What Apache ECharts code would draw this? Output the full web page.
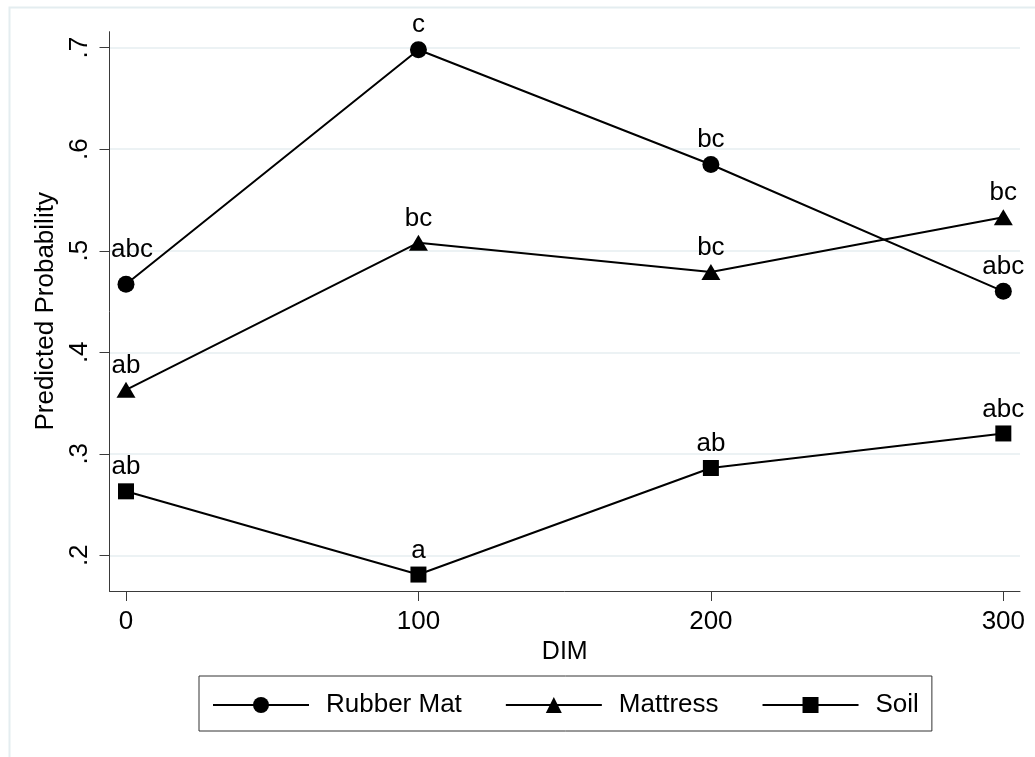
<!DOCTYPE html>
<html><head><meta charset="utf-8">
<script src="https://cdn.jsdelivr.net/npm/echarts@6/dist/echarts.min.js"></script>
<style>html,body{margin:0;padding:0;background:#fff}#c{width:1035px;height:757px}</style>
</head><body><div id="c"></div>
<script>
// ---- data ----
const xValues = [0, 100, 200, 300];
const seriesNames = ['Rubber Mat', 'Mattress', 'Soil'];
const rubberMat = [0.467, 0.698, 0.585, 0.460];
const mattress = [0.363, 0.508, 0.479, 0.533];
const soil = [0.263, 0.181, 0.286, 0.320];
const rubberLabels = ['abc', 'c', 'bc', 'abc'];
const mattressLabels = ['ab', 'bc', 'bc', 'bc'];
const soilLabels = ['ab', 'a', 'ab', 'abc'];
const xTicks = [0, 100, 200, 300];
const xTickLabels = ['0', '100', '200', '300'];
const yTicks = [0.2, 0.3, 0.4, 0.5, 0.6, 0.7];
const yTickLabels = ['.2', '.3', '.4', '.5', '.6', '.7'];
const xTitle = 'DIM';
const yTitle = 'Predicted Probability';

// ---- chart ----
const FONT = '"Liberation Sans", Arial, sans-serif';
const chart = echarts.init(document.getElementById('c'), null, {renderer: 'canvas'});

function lookup(ticks, labels, v) {
  const i = ticks.findIndex(t => Math.abs(t - v) < 1e-9);
  return i >= 0 ? labels[i] : '';
}

function mkSeries(name, vals, labels, symbol, size, nudge) {
  return {
    name: name,
    type: 'line',
    data: vals.map((v, i) => {
      const d = {value: [xValues[i], v]};
      if (nudge && nudge[i]) d.label = {offset: nudge[i]};
      return d;
    }),
    symbol: symbol,
    symbolSize: size,
    showAllSymbol: true,
    lineStyle: {color: '#000', width: 2},
    itemStyle: {color: '#000', borderWidth: 0},
    emphasis: {disabled: true},
    label: {
      show: true, position: 'top', distance: 3,
      formatter: p => labels[p.dataIndex],
      fontSize: 26, fontFamily: FONT, color: '#000'
    },
    z: 3
  };
}

const axisColor = '#3a3a3a';
chart.setOption({
  animation: false,
  backgroundColor: '#fff',
  textStyle: {fontFamily: FONT, color: '#000'},
  graphic: [{
    type: 'rect', left: 7, top: 5, silent: true,
    shape: {width: 1040, height: 770},
    style: {fill: 'none', stroke: '#e4edf0', lineWidth: 2}
  }],
  grid: {left: 109.5, right: 15, top: 31.7, bottom: 166, containLabel: false},
  xAxis: {
    type: 'value', min: -5.64, max: 305.7,
    name: xTitle, nameLocation: 'middle', nameGap: 42,
    nameTextStyle: {fontSize: 25, color: '#000', fontFamily: FONT},
    axisLine: {show: true, onZero: false, lineStyle: {color: axisColor, width: 1}},
    axisTick: {show: true, length: 10, customValues: xTicks, lineStyle: {color: axisColor, width: 1}},
    axisLabel: {show: true, margin: 18, fontSize: 26, color: '#000', fontFamily: FONT,
      customValues: xTicks, formatter: v => lookup(xTicks, xTickLabels, v)},
    splitLine: {show: false}
  },
  yAxis: {
    type: 'value', min: 0.1648, max: 0.7158,
    name: yTitle, nameLocation: 'middle', nameGap: 48,
    nameTextStyle: {fontSize: 26, color: '#000', fontFamily: FONT},
    axisLine: {show: true, onZero: false, lineStyle: {color: axisColor, width: 1}},
    axisTick: {show: true, length: 10, customValues: yTicks, lineStyle: {color: axisColor, width: 1}},
    axisLabel: {show: true, margin: 17, rotate: 90, fontSize: 26, color: '#000', fontFamily: FONT,
      customValues: yTicks, formatter: v => lookup(yTicks, yTickLabels, v)},
    splitLine: {show: true, lineStyle: {color: '#e6eef1', width: 1.5}}
  },
  legend: {
    show: true, left: 199, top: 676,
    orient: 'horizontal',
    data: seriesNames,
    padding: [16, 13, 13, 13],
    borderColor: '#333', borderWidth: 1,
    itemWidth: 96, itemHeight: 20, itemGap: 43,
    selectedMode: false,
    textStyle: {fontSize: 26, color: '#000', fontFamily: FONT, padding: [0, 0, 0, 12]}
  },
  series: [
    mkSeries(seriesNames[0], rubberMat, rubberLabels, 'circle', 17, {0: [6, -10]}),
    mkSeries(seriesNames[1], mattress, mattressLabels, 'triangle', [19, 16], null),
    mkSeries(seriesNames[2], soil, soilLabels, 'rect', 16, null)
  ]
});
</script>
</body></html>
